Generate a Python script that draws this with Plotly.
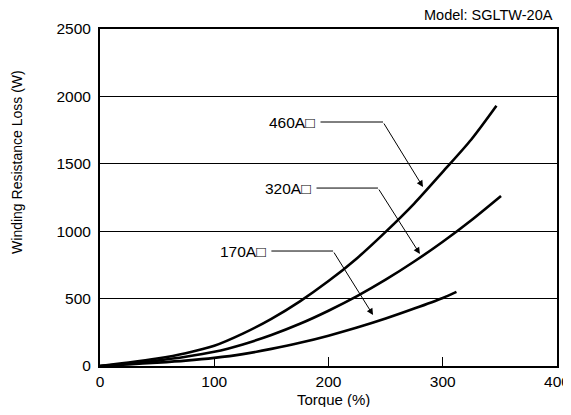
import plotly.graph_objects as go

# ---- data ----
torque_460 = [0, 25, 50, 75, 100, 125, 150, 175, 200, 225, 250, 275, 300, 325, 347]
loss_460 = [0, 25, 55, 95, 150, 240, 350, 480, 630, 800, 995, 1205, 1440, 1680, 1930]

torque_320 = [0, 25, 50, 75, 100, 125, 150, 175, 200, 225, 250, 275, 300, 325, 351]
loss_320 = [0, 18, 40, 68, 105, 160, 230, 313, 410, 518, 640, 775, 922, 1082, 1262]

torque_170 = [0, 25, 50, 75, 100, 125, 150, 175, 200, 225, 250, 275, 300, 312]
loss_170 = [0, 12, 25, 40, 60, 88, 127, 172, 225, 285, 352, 426, 505, 550]

series_names = ["460A□", "320A□", "170A□"]
# callout: label end (x, y), bend x, arrow head (x, y)
label_x = [190, 186.5, 147]
label_y = [1810, 1320, 853]
bend_x = [247.7, 243.3, 204]
head_x = [282.7, 280, 239]
head_y = [1328, 831, 378]

x_ticks = [0, 100, 200, 300, 400]
y_ticks = [0, 500, 1000, 1500, 2000, 2500]

FONT = "Liberation Sans, Arial, Noto Sans CJK JP, sans-serif"

fig = go.Figure()
for tx, ly, nm in [(torque_460, loss_460, series_names[0]),
                   (torque_320, loss_320, series_names[1]),
                   (torque_170, loss_170, series_names[2])]:
    fig.add_trace(go.Scatter(x=tx, y=ly, mode="lines", name=nm,
                             line=dict(color="black", width=2.6, shape="spline", smoothing=0.8),
                             showlegend=False, hoverinfo="skip"))

for i in range(3):
    fig.add_annotation(x=label_x[i], y=label_y[i], xref="x", yref="y", text=series_names[i],
                       showarrow=False, xanchor="right", yanchor="middle",
                       font=dict(family=FONT, size=15.5, color="black"))
    fig.add_shape(type="line", xref="x", yref="y",
                  x0=label_x[i] + 3, y0=label_y[i], x1=bend_x[i], y1=label_y[i],
                  line=dict(color="black", width=1))
    fig.add_annotation(x=head_x[i], y=head_y[i], ax=bend_x[i], ay=label_y[i],
                       xref="x", yref="y", axref="x", ayref="y", text="",
                       showarrow=True, arrowhead=2, arrowsize=1.3, arrowwidth=1,
                       arrowcolor="black", standoff=0, startstandoff=0)

fig.add_annotation(x=0.9956, y=1.0415, xref="paper", yref="paper", text="Model: SGLTW-20A",
                   showarrow=False, xanchor="right", yanchor="middle",
                   font=dict(family=FONT, size=14.5, color="black"))
fig.add_annotation(x=0.512, y=-0.1, xref="paper", yref="paper", text="Torque (%)",
                   showarrow=False, xanchor="center", yanchor="middle",
                   font=dict(family=FONT, size=15, color="black"))
fig.add_annotation(x=-0.182, y=0.605, xref="paper", yref="paper", text="Winding Resistance Loss (W)",
                   showarrow=False, xanchor="center", yanchor="middle", textangle=-90,
                   font=dict(family=FONT, size=14, color="black"))

fig.update_xaxes(range=[0, 400], tickvals=x_ticks, ticks="inside", ticklen=9, tickwidth=1,
                 tickcolor="black", showgrid=False, zeroline=False, automargin=False,
                 ticklabeloverflow="allow",
                 showline=True, linecolor="black", linewidth=2, mirror=True,
                 tickfont=dict(family=FONT, size=15.5, color="black"))
fig.update_yaxes(range=[0, 2500], tickvals=y_ticks, ticks="", showgrid=True, gridcolor="black",
                 gridwidth=1, zeroline=False, showline=True, linecolor="black", linewidth=2,
                 mirror=True, ticklabelstandoff=4, automargin=False,
                 tickfont=dict(family=FONT, size=15.5, color="black"))

# page body has an 8px margin; size the figure so the plot area lands where the reference has it
fig.update_layout(width=563, height=399, margin=dict(l=92, r=14, t=21, b=41, autoexpand=False),
                  plot_bgcolor="white", paper_bgcolor="white",
                  font=dict(family=FONT, color="black"))

fig.write_html("out.html")
